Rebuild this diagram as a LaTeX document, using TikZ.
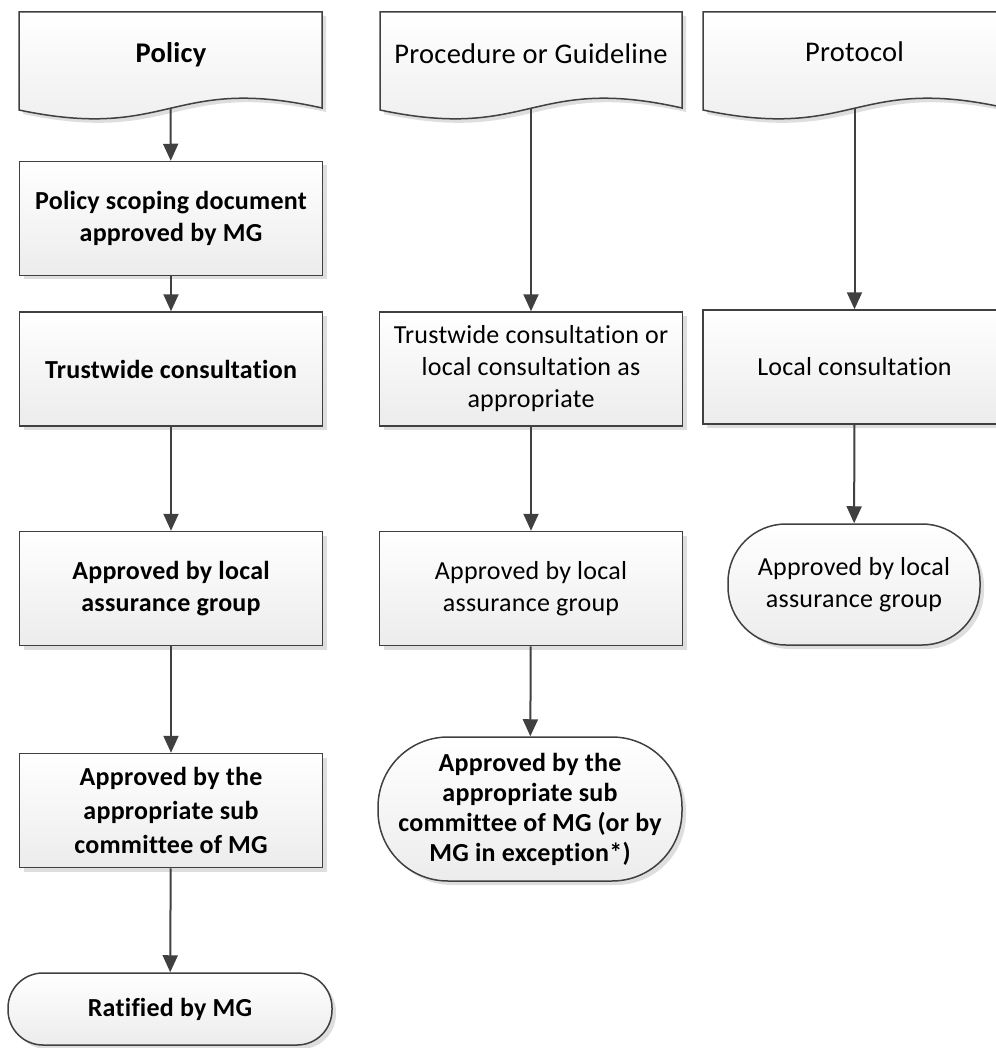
\documentclass[tikz,border=0pt]{standalone}
\usepackage{fontspec}
\setmainfont{Carlito}[Ligatures=CommonOff, LetterSpace=1]
\usetikzlibrary{arrows.meta,shadows}

\definecolor{linegray}{HTML}{404040}
\definecolor{fillgray}{HTML}{ECECEC}

\tikzset{
  shade box/.style={draw=linegray, line width=1.5pt, top color=white,
    bottom color=fillgray,
    drop shadow={shadow xshift=4pt, shadow yshift=-4pt, fill=black, opacity=0.13}},
  txt/.style={font=\fontsize{26}{32}\selectfont, align=center},
  bold/.style={font=\fontsize{26}{32}\selectfont\bfseries, align=center},
  head/.style={font=\fontsize{28.5}{34}\selectfont, align=center},
  process/.style={shade box, rectangle, minimum width=303pt,
    minimum height=114pt, inner sep=0pt},
  terminal/.style={shade box, rectangle, inner sep=0pt},
  flow/.style={draw=linegray, line width=2pt,
    -{Triangle[length=17pt,width=15pt]}},
}

% document symbol with a wavy bottom, #1 = left x, #2 = right x
\newcommand{\docshape}[2]{%
  \path[shade box] (#1,12) -- (#2,12) -- (#2,108)
    .. controls ({(#1+#2)/2},74) and ({(#1+#2)/2},142) .. (#1,110) -- cycle;}

\begin{document}
\begin{tikzpicture}[x=1pt,y=-1pt]
\useasboundingbox (0,0) rectangle (995,1048);

% documents
\docshape{19}{322}
\docshape{380}{682}
\docshape{703}{1006}
\node [head, font=\fontsize{28.5}{34}\selectfont\bfseries] (policy) at (171,55) {Policy};
\node [head] (procedure) at (531,54) {Procedure or Guideline};
\node [head] (protocol) at (854.5,52) {Protocol};
\coordinate (policy-end) at (170.5,108);
\coordinate (procedure-end) at (531,108);
\coordinate (protocol-end) at (854.5,108);

% policy column
\node [process, bold] (scope) at (171,218.5) {Policy scoping document\\approved by MG};
\node [process, bold] (trustwide) at (171,369) {Trustwide consultation};
\node [process, bold] (localag) at (171,588.5) {Approved by local\\assurance group};
\node [process, bold, font=\fontsize{26}{34}\selectfont\bfseries]
  (subcom) at (171,810.5) {Approved by the\\appropriate sub\\committee of MG};
\node [terminal, bold, minimum width=324pt, minimum height=72pt,
  rounded corners=35pt] (ratified) at (170,1009) {Ratified by MG};

% procedure column
\node [process, txt] (consult) at (531,369) {Trustwide consultation or\\local consultation as\\appropriate};
\node [process, txt] (localagb) at (531,588.5) {Approved by local\\assurance group};
\node [terminal, bold, minimum width=304pt, minimum height=144pt,
  rounded corners=70pt, font=\fontsize{26}{30}\selectfont\bfseries]
  (subcomb) at (530,809) {Approved by the\\appropriate sub\\committee of MG (or by\\MG in exception*)};

% protocol column
\node [process, txt] (localcons) at (854.5,367) {Local consultation};
\node [terminal, txt, minimum width=252pt, minimum height=121pt,
  rounded corners=58pt] (localagc) at (854,584.5) {Approved by local\\assurance group};

% connectors
\draw [flow] (policy-end) -- (scope);
\draw [flow] (scope) -- (trustwide);
\draw [flow] (trustwide) -- (localag);
\draw [flow] (localag) -- (subcom);
\draw [flow] (subcom) -- (ratified);
\draw [flow] (procedure-end) -- (consult);
\draw [flow] (consult) -- (localagb);
\draw [flow] (localagb) -- (subcomb);
\draw [flow] (protocol-end) -- (localcons);
\draw [flow] (localcons) -- (localagc);
\end{tikzpicture}
\end{document}
